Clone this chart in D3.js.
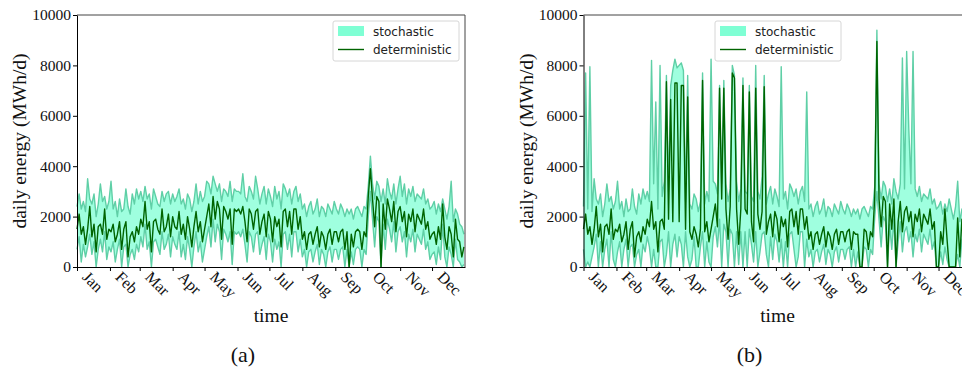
<!DOCTYPE html>
<html>
<head>
<meta charset="utf-8">
<script src="https://cdn.jsdelivr.net/npm/d3@7"></script>
<style>
  body { margin: 0; background: #fff; }
  svg { display: block; }
</style>
</head>
<body>
<svg id="chart" width="962" height="376"></svg>
<script>
// one value every 2 days, day 0 = 1 Jan
const dayStep = 2;

const monthStarts = [0, 31, 59, 90, 120, 151, 181, 212, 243, 273, 304, 334];
const monthLabels = ['Jan', 'Feb', 'Mar', 'Apr', 'May', 'Jun', 'Jul', 'Aug', 'Sep', 'Oct', 'Nov', 'Dec'];
const yTicks = [0, 2000, 4000, 6000, 8000, 10000];

// panel (a)
const detA = [
  1500, 2100, 1300, 1600, 900, 1500, 2400, 1200, 1700, 600, 1600, 1700, 1300, 2300, 1100, 1500,
  1400, 1700, 1000, 1300, 1800, 700, 1500, 1800, 400, 1200, 1400, 1000, 1600, 1300,
  1900, 1600, 2600, 1500, 1800, 600, 1800, 1900, 1500, 1300, 2300, 1400, 1600, 2100, 1200,
  2000, 1600, 1500, 2200, 1300, 1700, 1100, 2000, 1500, 800, 1600, 2200, 1400, 1800, 1000,
  1500, 2000, 2500, 1600, 2800, 1900, 2600, 2300, 1100, 2400, 2200, 1900, 2300, 900, 2300, 2200,
  2300, 2100, 2400, 1800, 1000, 2300, 2100, 1500, 2200, 2300, 1300, 1800, 2100, 1200, 2200,
  1900, 1000, 2000, 1600, 1900, 800, 2200, 2300, 1600, 2200, 1300, 2300, 2300, 1500, 2000,
  1100, 1400, 700, 1300, 1400, 900, 1300, 1600, 800, 1400, 1200, 700, 1300, 1500, 900, 1400,
  1400, 1000, 1400, 1500, 700, 1400, 0, 1300, 800, 1400, 1500, 1400, 700, 1400, 1200,
  2800, 3900, 2700, 1600, 2800, 2600, 0, 2500, 1500, 2700, 2300, 1800, 2600, 1400, 2200,
  2400, 1800, 2200, 1200, 2100, 1800, 2300, 1400, 2100, 1900, 1700, 2300, 1500, 1800, 1100,
  1300, 1400, 900, 1600, 1100, 2500, 1200, 700, 1600, 1300, 400, 1900, 1100, 1000, 400, 800
];
const stochHiA = [
  2400, 2900, 2300, 2600, 2200, 3500, 2700, 2500, 2900, 2000, 2500, 3300, 2600, 2800, 2300, 2600,
  3400, 2300, 2600, 2000, 2700, 2200, 2300, 3100, 2400, 2100, 2900, 2500, 3100, 2700,
  3000, 2600, 3200, 2700, 2900, 2300, 3100, 2800, 2500, 2400, 3000, 2600, 2900, 3000, 2500,
  2900, 2600, 2800, 3100, 2500, 2700, 2300, 2900, 2700, 2200, 2600, 3300, 2500, 3000, 2600,
  2800, 3400, 3300, 2900, 3600, 3300, 3000, 3300, 2600, 3100, 3000, 2800, 3400, 2600, 3100, 3000,
  3000, 2900, 3700, 2800, 2600, 3200, 3000, 2700, 3600, 3100, 2500, 2900, 3200, 2500, 3100,
  2800, 2400, 3200, 2700, 3000, 2300, 3300, 3100, 2800, 3100, 2500, 3000, 3200, 2600, 2900,
  2300, 2500, 2000, 2400, 2600, 2100, 2300, 2700, 2000, 2400, 2300, 2000, 2500, 2300, 2100, 2600,
  2300, 2100, 2500, 2300, 2000, 2300, 2100, 2300, 1900, 2300, 2400, 2200, 2000, 2400, 2300,
  3200, 4400, 3300, 2700, 3400, 3200, 2600, 3100, 2500, 3500, 3000, 2700, 3300, 2500, 3100,
  3600, 2800, 3300, 2500, 3100, 2800, 3200, 2600, 2900, 2800, 2700, 3100, 2500, 2700, 2300,
  2400, 2600, 2100, 2500, 2200, 2700, 2300, 1900, 2400, 3400, 1800, 2300, 2100, 1700, 1600, 1300
];
const stochLoA = [
  700, 1200, 200, 900, 400, 800, 1300, 500, 1000, 0, 700, 1100, 600, 1400, 300, 800,
  600, 1000, 200, 700, 1100, 0, 800, 900, 0, 500, 700, 300, 900, 600,
  1200, 800, 1700, 700, 1000, 0, 1000, 1100, 800, 500, 1400, 700, 900, 1300, 400,
  1200, 900, 700, 1400, 400, 900, 300, 1200, 700, 0, 800, 1400, 600, 1000, 200,
  700, 1200, 1600, 800, 1900, 1000, 1700, 1400, 300, 1500, 1300, 1000, 1400, 100, 1400, 1300,
  1400, 1200, 1500, 900, 200, 1400, 1200, 600, 1300, 1400, 500, 900, 1200, 300, 1300,
  1000, 200, 1100, 700, 1000, 0, 1300, 1400, 700, 1300, 400, 1400, 1400, 600, 1100,
  400, 700, 0, 600, 700, 200, 600, 900, 100, 700, 500, 0, 600, 800, 200, 700,
  700, 300, 700, 800, 0, 700, 0, 600, 100, 700, 800, 700, 0, 700, 500,
  2000, 3000, 1900, 800, 2000, 1800, 0, 1700, 700, 1900, 1500, 1000, 1800, 600, 1400,
  1600, 1000, 1400, 400, 1300, 1000, 1500, 600, 1300, 1100, 900, 1500, 700, 1000, 300,
  500, 600, 100, 800, 300, 1700, 400, 0, 800, 500, 0, 1100, 300, 200, 0, 100
];

// panel (b)
const detB = [
  1500, 2100, 1300, 1600, 900, 1500, 2400, 1200, 1700, 600, 1600, 1700, 1300, 2300, 1100, 1500,
  1400, 1700, 1000, 1300, 1800, 700, 1500, 1800, 400, 1200, 1400, 1000, 1600, 1300,
  1900, 1600, 2600, 1500, 1800, 600, 1800, 1900, 1500, 7350, 1900, 6650, 1800, 7300, 7300,
  1800, 7200, 7200, 1500, 6750, 1400, 1100, 1600, 1300, 800, 1500, 7400, 1400, 1800, 1000,
  1500, 2000, 2500, 1600, 7100, 2700, 7100, 2300, 1100, 2400, 7700, 7500, 2300, 900, 2300, 7200,
  2300, 2100, 6950, 1800, 1000, 7100, 2100, 1500, 2200, 7150, 1300, 1800, 2100, 1200, 2200,
  1900, 1000, 2000, 1600, 1900, 800, 2200, 2300, 1600, 2200, 1300, 2300, 2300, 1500, 2000,
  1100, 1400, 700, 1300, 1400, 900, 1300, 1600, 800, 1400, 1200, 700, 1300, 1500, 900, 1400,
  1400, 1000, 1400, 1500, 700, 1400, 1300, 1300, 0, 0, 1500, 1400, 700, 1400, 1200,
  2800, 8950, 2700, 1600, 2800, 2600, 0, 2500, 1500, 2700, 0, 1800, 2600, 1400, 2200,
  2400, 1800, 2200, 1200, 2100, 1800, 2300, 1400, 2100, 1900, 1700, 2300, 1500, 1800, 0,
  0, 1400, 900, 2300, 1100, 0, 0, 0, 0, 1950, 400, 1900, 1100, 1000, 400, 800
];
const stochHiB = [
  2400, 7700, 2300, 7950, 2200, 3500, 2700, 2500, 2900, 2000, 2500, 3300, 2600, 2800, 2300, 2600,
  3400, 2300, 2600, 2000, 2700, 2200, 2300, 3100, 2400, 2100, 2900, 2500, 3100, 2700,
  3000, 2600, 8200, 3300, 6550, 2300, 8000, 2800, 3400, 7600, 3000, 7200, 7800, 8250, 7900,
  8000, 8100, 7800, 2600, 7600, 2500, 2300, 2900, 2700, 2200, 2600, 7700, 2500, 3000, 2600,
  8250, 3400, 3300, 2900, 7200, 3300, 7400, 3300, 2600, 3100, 8000, 7600, 3400, 2600, 3100, 7500,
  3000, 2900, 7200, 2800, 2600, 8000, 3000, 2700, 3600, 7600, 2500, 2900, 3200, 2500, 3100,
  2800, 2400, 7950, 2700, 3000, 2300, 3300, 3100, 2800, 3100, 2500, 3000, 3200, 2600, 6950,
  2300, 2500, 2000, 2400, 2600, 2100, 2300, 2700, 2000, 2400, 2300, 2000, 2500, 2300, 2100, 2600,
  2300, 2100, 2500, 2300, 2000, 2300, 2100, 2300, 1900, 2300, 2400, 2200, 2000, 2400, 2300,
  3200, 9400, 3300, 2700, 3400, 3200, 2600, 3100, 2500, 3500, 3000, 2700, 3300, 8300, 3100,
  8550, 5500, 3300, 8550, 3100, 2800, 3200, 2600, 2900, 2800, 2700, 3100, 2500, 2700, 2300,
  2400, 2600, 2100, 2500, 2200, 2700, 2300, 1900, 2400, 3400, 1800, 2300, 2100, 1700, 1600, 1300
];
const stochLoB = [
  700, 0, 200, 0, 400, 800, 1300, 0, 1000, 0, 700, 1100, 0, 1400, 300, 0,
  600, 1000, 0, 700, 1100, 0, 800, 900, 0, 500, 700, 0, 900, 600,
  1200, 800, 0, 700, 0, 0, 1000, 1100, 0, 500, 1400, 0, 900, 1300, 400,
  1200, 900, 0, 1400, 400, 0, 300, 1200, 0, 0, 800, 1400, 0, 1000, 200,
  0, 1200, 1600, 800, 1900, 0, 1700, 1400, 0, 1500, 1300, 0, 1400, 100, 1400, 0,
  1400, 0, 1500, 900, 200, 1400, 0, 600, 1300, 1400, 500, 0, 1200, 300, 1300,
  1000, 200, 1100, 0, 1000, 0, 1300, 1400, 700, 0, 400, 1400, 1400, 0, 1100,
  400, 700, 0, 600, 700, 200, 600, 900, 100, 700, 500, 0, 600, 800, 200, 700,
  700, 300, 700, 800, 0, 700, 0, 600, 0, 0, 800, 700, 0, 700, 500,
  2000, 3000, 1900, 800, 2000, 1800, 0, 1700, 700, 1900, 0, 1000, 1800, 600, 1400,
  1600, 1000, 1400, 400, 1300, 1000, 1500, 600, 1300, 1100, 900, 1500, 700, 1000, 0,
  0, 600, 100, 800, 300, 0, 0, 0, 0, 500, 0, 1100, 300, 200, 0, 100
];

const seriesNames = ['stochastic', 'deterministic'];
const captions = ['(a)', '(b)'];

const serif = "'Liberation Serif', 'DejaVu Serif', serif";
const sans = "'DejaVu Sans', sans-serif";
const width = 388, height = 252;

const svg = d3.select('#chart');

function drawPanel(left, det, hi, lo, legendX, caption) {
  const g = svg.append('g').attr('transform', 'translate(' + left + ',15)');

  const x = d3.scaleLinear().domain([0, 365]).range([0, width]);
  const y = d3.scaleLinear().domain([0, 10000]).range([height, 0]);

  // stochastic envelope
  const band = d3.area()
    .x((d, i) => x(i * dayStep))
    .y0((d, i) => y(lo[i]))
    .y1(d => y(d));
  g.append('path').datum(hi)
    .attr('d', band)
    .attr('fill', '#7fffd4')
    .attr('opacity', 0.75);

  const line = d3.line().x((d, i) => x(i * dayStep)).y(d => y(d));
  [hi, lo].forEach(s => {
    g.append('path').datum(s)
      .attr('d', line)
      .attr('fill', 'none')
      .attr('stroke', '#5fcfa6')
      .attr('stroke-width', 1.4)
      .attr('stroke-linejoin', 'round');
  });

  g.append('path').datum(det)
    .attr('d', line)
    .attr('fill', 'none')
    .attr('stroke', '#006400')
    .attr('stroke-width', 1.4)
    .attr('stroke-linejoin', 'round');

  // top / right spines
  g.append('line').attr('x1', 0).attr('x2', width).attr('y1', 0).attr('y2', 0)
    .attr('stroke', '#444').attr('stroke-width', 1);
  g.append('line').attr('x1', width).attr('x2', width).attr('y1', 0).attr('y2', height)
    .attr('stroke', '#444').attr('stroke-width', 1);

  // axes
  const yAxis = d3.axisLeft(y).tickValues(yTicks).tickSize(4).tickSizeOuter(0).tickPadding(2)
    .tickFormat(d3.format('d'));
  const ya = g.append('g').call(yAxis);
  ya.selectAll('text').attr('font-family', serif).attr('font-size', 15.5).attr('fill', '#111');

  const xAxis = d3.axisBottom(x).tickValues(monthStarts).tickSize(4).tickSizeOuter(0)
    .tickFormat((d, i) => monthLabels[i]);
  const xa = g.append('g').attr('transform', 'translate(0,' + height + ')').call(xAxis);
  xa.selectAll('text')
    .attr('font-family', serif).attr('font-size', 16).attr('fill', '#111')
    .attr('text-anchor', 'start')
    .attr('y', 0).attr('dy', 0)
    .attr('transform', 'translate(4,11) rotate(45)');

  [ya, xa].forEach(a => {
    a.select('.domain').attr('stroke', '#000').attr('stroke-width', 1);
    a.selectAll('.tick line').attr('stroke', '#000');
  });

  g.append('text')
    .attr('transform', 'translate(-51,' + height / 2 + ') rotate(-90)')
    .attr('text-anchor', 'middle')
    .attr('font-family', serif).attr('font-size', 19.5).attr('fill', '#111')
    .text('daily energy (MWh/d)');

  g.append('text')
    .attr('x', width / 2).attr('y', height + 55)
    .attr('text-anchor', 'middle')
    .attr('font-family', serif).attr('font-size', 19.5).attr('fill', '#111')
    .text('time');

  g.append('text')
    .attr('x', 166).attr('y', height + 95)
    .attr('text-anchor', 'middle')
    .attr('font-family', serif).attr('font-size', 22).attr('fill', '#111')
    .text(caption);

  // legend
  const lg = g.append('g').attr('transform', 'translate(' + legendX + ',6)');
  lg.append('rect').attr('width', 126).attr('height', 40).attr('rx', 2)
    .attr('fill', '#fff').attr('fill-opacity', 0.8)
    .attr('stroke', '#d6d6d6').attr('stroke-width', 1);
  lg.append('rect').attr('x', 5).attr('y', 5).attr('width', 26).attr('height', 10)
    .attr('fill', '#7fffd4');
  lg.append('line').attr('x1', 5).attr('x2', 31).attr('y1', 28.5).attr('y2', 28.5)
    .attr('stroke', '#006400').attr('stroke-width', 1.4);
  seriesNames.forEach((name, i) => {
    lg.append('text')
      .attr('x', 40).attr('y', 14.5 + i * 18.5)
      .attr('font-family', sans).attr('font-size', 12).attr('fill', '#222')
      .text(name);
  });
}

drawPanel(77, detA, stochHiA, stochLoA, 256, captions[0]);
drawPanel(583.5, detB, stochHiB, stochLoB, 131.5, captions[1]);
</script>
</body>
</html>
